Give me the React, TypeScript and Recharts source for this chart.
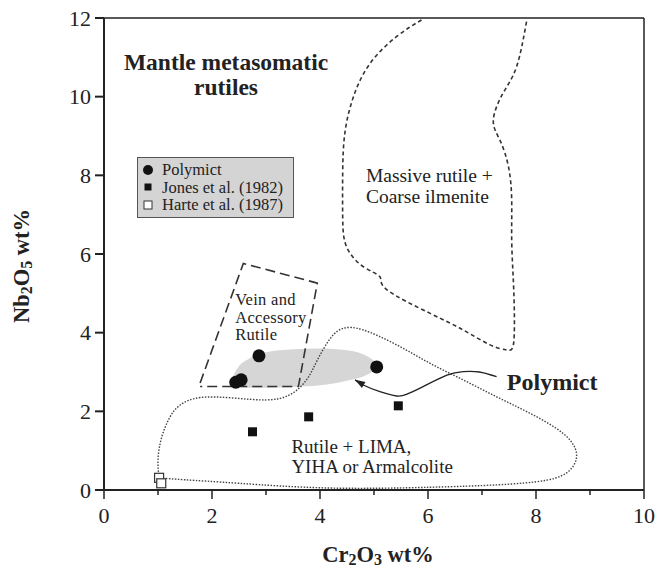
import React from 'react';
import { ComposedChart, XAxis, YAxis, Scatter, Line, Area, ReferenceLine, ReferenceDot, Legend } from 'recharts';

// measured points (Cr2O3 wt%, Nb2O5 wt%)
const polymict = [
  { x: 2.44, y: 2.74 },
  { x: 2.54, y: 2.8 },
  { x: 2.87, y: 3.41 },
  { x: 5.05, y: 3.13 },
];
const jones = [
  { x: 2.75, y: 1.48 },
  { x: 3.79, y: 1.86 },
  { x: 5.45, y: 2.14 },
];
const harte = [
  { x: 1.02, y: 0.31 },
  { x: 1.06, y: 0.17 },
];

// field outlines
const massiveOutline = [
  { x: 5.88, y: 11.95 }, { x: 5.42, y: 11.53 }, { x: 4.93, y: 10.85 }, { x: 4.62, y: 10.0 },
  { x: 4.46, y: 9.07 }, { x: 4.42, y: 8.05 }, { x: 4.42, y: 6.95 }, { x: 4.49, y: 6.19 },
  { x: 4.8, y: 5.68 }, { x: 5.11, y: 5.42 }, { x: 5.24, y: 5.09 }, { x: 6.04, y: 4.49 },
  { x: 6.65, y: 4.07 }, { x: 7.15, y: 3.69 }, { x: 7.46, y: 3.56 }, { x: 7.58, y: 3.68 },
  { x: 7.6, y: 4.4 }, { x: 7.58, y: 5.34 }, { x: 7.55, y: 6.36 }, { x: 7.55, y: 7.37 },
  { x: 7.49, y: 8.22 }, { x: 7.33, y: 8.9 }, { x: 7.21, y: 9.41 }, { x: 7.39, y: 10.09 },
  { x: 7.64, y: 10.76 }, { x: 7.83, y: 11.95 },
];
const veinOutline = [
  { x: 1.78, y: 2.72 }, { x: 2.58, y: 5.76 }, { x: 3.95, y: 5.26 }, { x: 3.6, y: 2.63 }, { x: 1.78, y: 2.63 },
];
const limaOutline = [
  { x: 1.02, y: 0.31 }, { x: 1.0, y: 0.76 }, { x: 1.06, y: 1.3 }, { x: 1.2, y: 1.8 },
  { x: 1.4, y: 2.15 }, { x: 1.78, y: 2.35 }, { x: 2.39, y: 2.34 }, { x: 3.0, y: 2.29 },
  { x: 3.44, y: 2.42 }, { x: 3.75, y: 2.8 }, { x: 3.95, y: 3.3 }, { x: 4.19, y: 3.85 },
  { x: 4.43, y: 4.11 }, { x: 4.8, y: 4.07 }, { x: 5.42, y: 3.69 }, { x: 6.04, y: 3.22 },
  { x: 6.65, y: 2.8 }, { x: 7.27, y: 2.37 }, { x: 7.89, y: 1.95 }, { x: 8.5, y: 1.44 },
  { x: 8.75, y: 0.93 }, { x: 8.63, y: 0.51 }, { x: 8.2, y: 0.25 }, { x: 7.27, y: 0.13 },
  { x: 6.04, y: 0.07 }, { x: 4.19, y: 0.05 }, { x: 2.5, y: 0.17 }, { x: 1.5, y: 0.26 },
  { x: 1.02, y: 0.31 },
];
const polymictField = [
  { x: 2.35, range: [2.72, 2.76] },
  { x: 2.45, range: [2.62, 3.05] },
  { x: 2.7, range: [2.6, 3.35] },
  { x: 3.0, range: [2.6, 3.5] },
  { x: 3.5, range: [2.62, 3.58] },
  { x: 4.0, range: [2.66, 3.6] },
  { x: 4.5, range: [2.78, 3.55] },
  { x: 4.9, range: [2.95, 3.38] },
  { x: 5.1, range: [3.13, 3.17] },
];
const arrowPath = [
  { x: 7.27, y: 2.88 }, { x: 6.95, y: 3.0 }, { x: 6.65, y: 3.01 }, { x: 6.35, y: 2.92 },
  { x: 5.91, y: 2.63 }, { x: 5.6, y: 2.43 }, { x: 5.42, y: 2.39 }, { x: 5.11, y: 2.5 },
  { x: 4.8, y: 2.67 }, { x: 4.65, y: 2.8 },
];
const arrowTip = [arrowPath[arrowPath.length - 1]];

const xTicks = [0, 1, 2, 3, 4, 5, 6, 7, 8, 9, 10];
const yTicks = [0, 2, 4, 6, 8, 10, 12];

const legendItems = [
  { name: 'Polymict', symbol: 'circle' },
  { name: 'Jones et al. (1982)', symbol: 'square' },
  { name: 'Harte et al. (1987)', symbol: 'open' },
];

const INK = '#222';

function XTick({ x, y, payload }: any) {
  const major = payload.value % 2 === 0;
  return (
    <g>
      <line x1={x} x2={x} y1={y} y2={y + (major ? 9 : 5)} stroke={INK} strokeWidth={1.5} />
      {major && (
        <text x={x} y={y + 33} textAnchor="middle" fontSize={22} fill={INK}>{payload.value}</text>
      )}
    </g>
  );
}

function XLabel({ viewBox }: any) {
  const cx = viewBox.x + viewBox.width / 2 + 4;
  return (
    <text x={cx} y={viewBox.y + 72} textAnchor="middle" fontSize={22.5} fontWeight={700} fill={INK}>
      Cr<tspan fontSize={16} dy={3}>2</tspan><tspan dy={-3}>O</tspan><tspan fontSize={16} dy={3}>3</tspan><tspan dy={-3}> wt%</tspan>
    </text>
  );
}

function YLabel({ viewBox }: any) {
  const cx = viewBox.x + 19;
  const cy = viewBox.y + viewBox.height / 2 + 12;
  return (
    <text x={cx} y={cy} transform={`rotate(-90 ${cx} ${cy})`} textAnchor="middle" fontSize={22.5} fontWeight={700} fill={INK}>
      Nb<tspan fontSize={16} dy={3}>2</tspan><tspan dy={-3}>O</tspan><tspan fontSize={16} dy={3}>5</tspan><tspan dy={-3}> wt%</tspan>
    </text>
  );
}

function Note({ viewBox, lines, size = 19, bold = false, anchor = 'start', lineHeight = 20, spacing = 0 }: any) {
  const x = viewBox.x;
  const y = viewBox.y;
  return (
    <text x={x} y={y} fontSize={size} fontWeight={bold ? 700 : 400} textAnchor={anchor} fill={INK} letterSpacing={spacing}>
      {lines.map((l: string, i: number) => (
        <tspan key={i} x={x} dy={i === 0 ? 0 : lineHeight}>{l}</tspan>
      ))}
    </text>
  );
}

const dotShape = (p: any) => <circle cx={p.cx} cy={p.cy} r={6.5} fill="#111" />;
const squareShape = (p: any) => <rect x={p.cx - 4.5} y={p.cy - 4.5} width={9} height={9} fill="#111" />;
const openShape = (p: any) => (
  <rect x={p.cx - 4.5} y={p.cy - 4.5} width={9} height={9} fill="#fff" stroke="#333" strokeWidth={1.2} />
);
const arrowShape = (p: any) => (
  <polygon
    points={`${p.cx},${p.cy} ${p.cx + 10},${p.cy - 3.5} ${p.cx + 10},${p.cy + 3.5}`}
    transform={`rotate(31 ${p.cx} ${p.cy})`}
    fill={INK}
  />
);

function LegendBox() {
  return (
    <div
      style={{
        width: 157,
        height: 61,
        boxSizing: 'border-box',
        background: '#d4d4d4',
        border: '1px solid #555',
        padding: '3px 0 0 3px',
        fontSize: 16.5,
        color: INK,
      }}
    >
      {legendItems.map((it) => (
        <div key={it.name} style={{ display: 'flex', alignItems: 'center', height: 17.5, lineHeight: '17.5px' }}>
          <svg width={21} height={14} style={{ flex: 'none' }}>
            {it.symbol === 'circle' && <circle cx={7} cy={7} r={5} fill="#111" />}
            {it.symbol === 'square' && <rect x={3.5} y={3.5} width={7} height={7} fill="#111" />}
            {it.symbol === 'open' && <rect x={3} y={3} width={8} height={8} fill="#fff" stroke="#333" />}
          </svg>
          <span style={{ whiteSpace: 'nowrap' }}>{it.name}</span>
        </div>
      ))}
    </div>
  );
}

export default function App() {
  return (
    <div style={{ position: 'absolute', left: 0, top: 0, width: 658, height: 568, background: '#fff', fontFamily: '"Liberation Serif", "Times New Roman", serif' }}>
      <ComposedChart width={658} height={568} margin={{ top: 18, right: 14, bottom: 8, left: 10 }}>
        <XAxis
          type="number"
          dataKey="x"
          domain={[0, 10]}
          ticks={xTicks}
          interval={0}
          tickLine={false}
          tickSize={0}
          tickMargin={0}
          tick={<XTick />}
          stroke={INK}
          strokeWidth={2}
          height={70}
          allowDataOverflow
          label={<XLabel />}
        />
        <YAxis
          type="number"
          domain={[0, 12]}
          ticks={yTicks}
          interval={0}
          width={94}
          tickSize={9}
          tickMargin={4}
          tick={{ fontSize: 22, fill: INK }}
          stroke={INK}
          strokeWidth={2}
          allowDataOverflow
          label={<YLabel />}
        />
        <ReferenceLine y={12} stroke={INK} strokeWidth={1.5} />
        <ReferenceLine x={10} stroke={INK} strokeWidth={1.5} />

        <Area data={polymictField} dataKey="range" type="monotone" fill="#d6d6d6" fillOpacity={1} stroke="none" isAnimationActive={false} legendType="none" dot={false} activeDot={false} />

        <Line data={massiveOutline} dataKey="y" type="natural" stroke="#333" strokeWidth={1.6} strokeDasharray="4 3" dot={false} activeDot={false} isAnimationActive={false} legendType="none" />
        <Line data={veinOutline} dataKey="y" type="linear" stroke="#333" strokeWidth={1.6} strokeDasharray="10 5" dot={false} activeDot={false} isAnimationActive={false} legendType="none" />
        <Line data={limaOutline} dataKey="y" type="natural" stroke="#444" strokeWidth={1.4} strokeDasharray="1.5 1.5" dot={false} activeDot={false} isAnimationActive={false} legendType="none" />
        <Line data={arrowPath} dataKey="y" type="natural" stroke={INK} strokeWidth={1.3} dot={false} activeDot={false} isAnimationActive={false} legendType="none" />

        <Scatter data={arrowTip} dataKey="y" shape={arrowShape} isAnimationActive={false} legendType="none" />
        <Scatter name="Harte et al. (1987)" data={harte} dataKey="y" shape={openShape} isAnimationActive={false} />
        <Scatter name="Jones et al. (1982)" data={jones} dataKey="y" shape={squareShape} isAnimationActive={false} />
        <Scatter name="Polymict" data={polymict} dataKey="y" shape={dotShape} isAnimationActive={false} />

        <ReferenceDot x={2.26} y={10.68} r={0} stroke="none" fill="none"
          label={<Note lines={['Mantle metasomatic', 'rutiles']} size={23.5} bold anchor="middle" lineHeight={25.5} />} />
        <ReferenceDot x={4.85} y={7.84} r={0} stroke="none" fill="none"
          label={<Note lines={['Massive rutile +', 'Coarse ilmenite']} size={19.5} lineHeight={21} />} />
        <ReferenceDot x={2.43} y={4.7} r={0} stroke="none" fill="none"
          label={<Note lines={['Vein and', 'Accessory', 'Rutile']} size={16.5} lineHeight={17.5} spacing={0.3} />} />
        <ReferenceDot x={3.47} y={0.93} r={0} stroke="none" fill="none"
          label={<Note lines={['Rutile + LIMA,', 'YIHA or Armalcolite']} size={19} lineHeight={20} />} />
        <ReferenceDot x={7.46} y={2.54} r={0} stroke="none" fill="none"
          label={<Note lines={['Polymict']} size={24} bold />} />

        <Legend layout="vertical" align="center" verticalAlign="middle" content={<LegendBox />}
          wrapperStyle={{ left: 137, top: 157, width: 'auto', height: 'auto' }} />
      </ComposedChart>
    </div>
  );
}
